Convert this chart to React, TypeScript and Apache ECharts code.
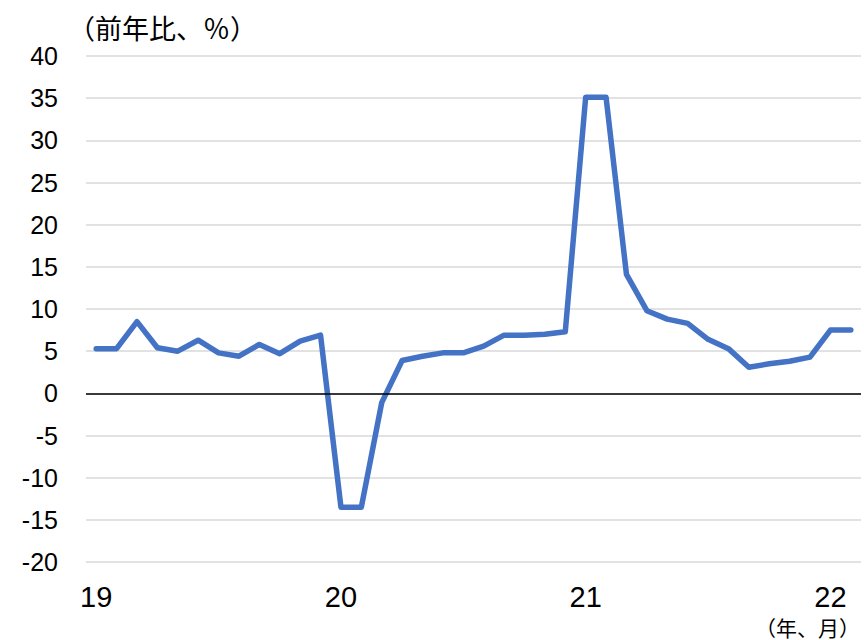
import React, { useEffect, useRef } from "react";
import * as echarts from "echarts";

const years = ["19", "20", "21", "22"];
const monthsPerYear = [12, 12, 12, 2];
const values2019 = [5.3, 5.3, 8.5, 5.4, 5.0, 6.3, 4.8, 4.4, 5.8, 4.7, 6.2, 6.9];
const values2020 = [-13.5, -13.5, -1.1, 3.9, 4.4, 4.8, 4.8, 5.6, 6.9, 6.9, 7.0, 7.3];
const values2021 = [35.1, 35.1, 14.1, 9.8, 8.8, 8.3, 6.4, 5.3, 3.1, 3.5, 3.8, 4.3];
const values2022 = [7.5, 7.5];
const yTicks = { min: -20, max: 40, interval: 5 };
const yTitle = "（前年比、％）";
const xTitle = "（年、月）";

const categories: string[] = [];
years.forEach((y, i) => {
  for (let m = 1; m <= monthsPerYear[i]; m++) categories.push(`${y}/${m}`);
});
const values = [...values2019, ...values2020, ...values2021, ...values2022];

export default function App() {
  const ref = useRef<HTMLDivElement>(null);
  useEffect(() => {
    if (!ref.current) return;
    const chart = echarts.init(ref.current, null, { renderer: "svg" });
    chart.setOption({
      animation: false,
      backgroundColor: "#ffffff",
      title: {
        text: yTitle,
        left: 63,
        top: 9,
        textStyle: {
          fontSize: 27,
          fontWeight: "normal",
          color: "#000",
          fontFamily: "Noto Sans CJK JP",
        },
      },
      graphic: [
        {
          type: "text",
          right: 4,
          top: 616,
          style: {
            text: xTitle,
            fontSize: 21,
            fill: "#000",
            fontFamily: "Noto Sans CJK JP",
          },
        },
      ],
      grid: { left: 86, right: 3, top: 56, bottom: 78 },
      xAxis: {
        type: "category",
        data: categories,
        boundaryGap: true,
        axisLine: { show: false },
        axisTick: { show: false },
        splitLine: { show: false },
        axisLabel: {
          interval: (idx: number) => idx % 12 === 0,
          formatter: (v: string) => v.split("/")[0],
          fontSize: 29,
          color: "#000",
          fontFamily: "Liberation Sans",
          margin: 20,
        },
      },
      yAxis: {
        type: "value",
        min: yTicks.min,
        max: yTicks.max,
        interval: yTicks.interval,
        axisLine: { show: false },
        axisTick: { show: false },
        axisLabel: {
          fontSize: 25,
          color: "#000",
          fontFamily: "Liberation Sans",
          margin: 28,
        },
        splitLine: { lineStyle: { color: "#d9d9d9", width: 1.5 } },
      },
      series: [
        {
          type: "line",
          data: values,
          symbol: "none",
          lineStyle: { color: "#4472c4", width: 5.5, cap: "round", join: "round" },
          markLine: {
            silent: true,
            symbol: "none",
            label: { show: false },
            lineStyle: { color: "#000", width: 1.5, type: "solid" },
            data: [{ yAxis: 0 }],
          },
          z: 3,
        },
      ],
    });
    return () => chart.dispose();
  }, []);
  return <div ref={ref} style={{ width: 864, height: 640, position: "absolute", left: 0, top: 0 }} />;
}
